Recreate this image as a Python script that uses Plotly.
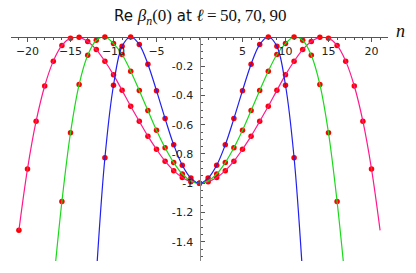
import plotly.graph_objects as go

# ---- data ----
blue_n = list(range(-12, 13))          # l = 50 curve samples
blue_vals = [-1.63, -0.826, -0.330, -0.064, 0.000, -0.052, -0.186, -0.367, -0.558,
             -0.737, -0.877, -0.965, -1.000, -0.965, -0.877, -0.737, -0.558, -0.367,
             -0.186, -0.052, 0.000, -0.064, -0.330, -0.826, -1.63]
blue_dot_n = list(range(-11, 12))
blue_dot_vals = blue_vals[1:-1]

green_n = list(range(-17, 18))         # l = 70
green_vals = [-1.70, -1.125, -0.655, -0.325, -0.125, -0.022, 0.000, -0.045, -0.120,
              -0.234, -0.366, -0.503, -0.638, -0.758, -0.859, -0.937, -0.984, -1.000,
              -0.984, -0.937, -0.859, -0.758, -0.638, -0.503, -0.366, -0.234, -0.120,
              -0.045, 0.000, -0.022, -0.125, -0.325, -0.655, -1.125, -1.70]
green_dot_n = list(range(-16, 17))
green_dot_vals = green_vals[1:-1]

pink_n = list(range(-21, 22))          # l = 90
pink_vals = [-1.322, -0.902, -0.576, -0.335, -0.165, -0.058, -0.008, -0.002, -0.031,
             -0.086, -0.166, -0.259, -0.365, -0.474, -0.577, -0.678, -0.768, -0.849,
             -0.914, -0.961, -0.990, -1.000, -0.990, -0.961, -0.914, -0.849, -0.768,
             -0.678, -0.577, -0.474, -0.365, -0.259, -0.166, -0.086, -0.031, -0.002,
             -0.008, -0.058, -0.165, -0.335, -0.576, -0.902, -1.322]
pink_dot_n = list(range(-21, 21))
pink_dot_vals = pink_vals[:-1]

x_ticks = [-20, -15, -10, -5, 5, 10, 15, 20]
y_ticks = [-1.4, -1.2, -1.0, -0.8, -0.6, -0.4, -0.2]
y_ticktext = ["-1.4", "-1.2", "-1", "-0.8", "-0.6", "-0.4", "-0.2"]

fig = go.Figure()

dot_style = dict(mode="markers", marker=dict(color="#ff0000", size=5.5),
                 cliponaxis=False, hoverinfo="skip", showlegend=False)
fig.add_trace(go.Scatter(x=pink_dot_n, y=pink_dot_vals, **dot_style))
fig.add_trace(go.Scatter(x=green_dot_n, y=green_dot_vals, **dot_style))
fig.add_trace(go.Scatter(x=blue_dot_n, y=blue_dot_vals, **dot_style))

for xs, ys, col in [(pink_n, pink_vals, "#ff1a8c"),
                    (green_n, green_vals, "#1ad91a"),
                    (blue_n, blue_vals, "#2020f0")]:
    fig.add_trace(go.Scatter(x=xs, y=ys, mode="lines",
                             line=dict(color=col, width=1.2, shape="spline"),
                             hoverinfo="skip", showlegend=False))

axis_col = "#555555"
fig.update_layout(
    width=416, height=273,
    margin=dict(l=11, r=28, t=37, b=12, autoexpand=False),
    paper_bgcolor="white", plot_bgcolor="white",
    font=dict(family="DejaVu Sans", size=11, color="#222222"),
    hovermode=False,
    xaxis=dict(range=[-21.92, 21.92], anchor="free", position=1.0, side="bottom",
               automargin=False,
               showline=True, linecolor=axis_col, linewidth=1, showgrid=False,
               zeroline=False, tickvals=x_ticks, ticks="outside", ticklen=4,
               tickcolor=axis_col, tickfont=dict(size=11),
               minor=dict(ticks="outside", dtick=1, tick0=0, ticklen=2, tickcolor=axis_col)),
    yaxis=dict(range=[-1.532, 0], anchor="free", position=0.5, showline=True,
               automargin=False,
               linecolor="#888888", linewidth=1, showgrid=False, zeroline=False,
               tickvals=y_ticks, ticktext=y_ticktext, ticks="inside", ticklen=4,
               tickcolor=axis_col, tickfont=dict(size=11), ticklabelstandoff=4,
               minor=dict(ticks="inside", dtick=0.05, tick0=0, ticklen=2, tickcolor=axis_col)),
)

serif = "font-family:'Liberation Serif';font-size:17px"
title = ("Re <span style=\"" + serif + "\"><i>β</i><sub><i>n</i></sub>(0)</span> at "
         "<span style=\"" + serif + "\"><i>ℓ</i>\u2009=\u200950,\u200970,\u200990</span>")
fig.add_annotation(text=title, xref="paper", yref="paper", x=0.5, y=1.088,
                   xanchor="center", yanchor="middle", showarrow=False,
                   font=dict(size=15, color="#111111", family="DejaVu Sans"))
fig.add_annotation(text="<i>n</i>", xref="paper", yref="paper", x=1.034, y=1.025,
                   xanchor="center", yanchor="middle", showarrow=False,
                   font=dict(size=18, color="#111111", family="Liberation Serif"))

fig.write_html("out.html", config={"displayModeBar": False},
               post_script="document.body.style.margin='0';document.body.style.padding='0';")
